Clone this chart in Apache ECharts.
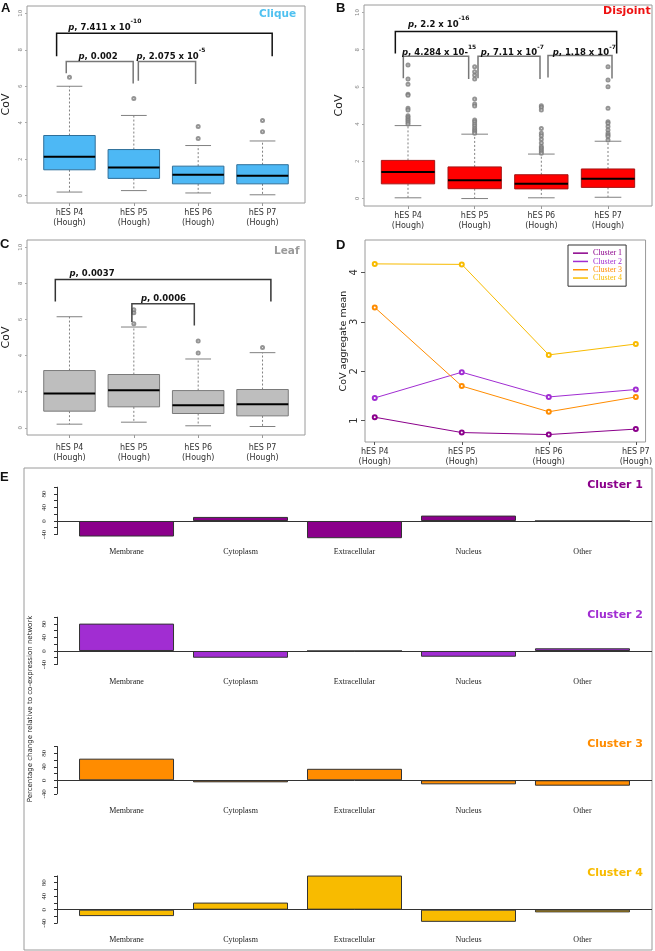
<!DOCTYPE html>
<html><head><meta charset="utf-8">
<script src="https://cdn.jsdelivr.net/npm/echarts@6/dist/echarts.min.js"></script>
<style>html,body{margin:0;padding:0;background:#fff}#c{width:655px;height:951px}</style>
</head><body><div id="c"></div>
<script>
// ---------- data ----------
const stages = ['hES P4\n(Hough)', 'hES P5\n(Hough)', 'hES P6\n(Hough)', 'hES P7\n(Hough)'];
// box stats per stage: [lower whisker, Q1, median, Q3, upper whisker]
const cliqueBoxes = [[0.2,1.42,2.14,3.3,6.0],[0.28,0.95,1.54,2.53,4.4],[0.15,0.65,1.15,1.62,2.75],[0.05,0.65,1.1,1.7,3.0]];
const cliqueOutliers = [[6.5],[5.33],[3.13,3.8],[3.5,4.12]];
const disjointBoxes = [[0.04,0.79,1.43,2.05,3.92],[0.0,0.53,0.98,1.7,3.46],[0.04,0.52,0.8,1.28,2.39],[0.07,0.6,1.07,1.59,3.08]];
const disjointOutliers = [
  [7.17,6.42,6.14,5.6,5.55,4.85,4.76,4.45,4.37,4.28,4.19,4.1,4.01],
  [7.08,6.81,6.63,6.42,5.35,5.08,4.97,4.22,4.13,4.0,3.9,3.78,3.69,3.6,3.51],
  [4.99,4.9,4.76,3.76,3.51,3.37,3.19,2.98,2.8,2.71,2.62,2.53,2.44],
  [7.08,6.37,6.01,4.85,4.13,4.04,3.87,3.69,3.51,3.42,3.33,3.15]
];
const leafBoxes = [[0.2,0.92,1.9,3.17,6.15],[0.31,1.16,2.08,2.95,5.58],[0.11,0.79,1.25,2.06,3.81],[0.07,0.66,1.31,2.12,4.16]];
const leafOutliers = [[],[5.76,6.37,6.54],[4.14,4.8],[4.44]];

// significance brackets: [x from, x to, top, left leg end, right leg end] (data units)
const cliqueBrackets = [[-0.2,3.15,8.9,7.64,7.64],[-0.05,0.99,7.36,6.72,6.15],[1.07,1.96,7.36,6.3,6.12]];
const disjointBrackets = [[-0.19,3.13,8.98,7.79,7.79],[-0.07,0.91,7.65,6.47,6.42],[1.05,1.98,7.65,6.47,6.42],[2.1,3.06,7.68,6.5,6.45]];
const leafBrackets = [[-0.22,3.13,8.21,7.0,7.0],[0.97,1.94,6.87,5.86,5.67]];
const cliquePLabels = [
  {x:-0.02, y:9.34, main:', 7.411 x 10', sup:'-10'},
  {x:0.14, y:7.75, main:', 0.002', sup:''},
  {x:1.04, y:7.75, main:', 2.075 x 10', sup:'-5'}
];
const disjointPLabels = [
  {x:0.0, y:9.47, main:', 2.2 x 10', sup:'-16'},
  {x:-0.09, y:7.92, main:', 4.284 x 10-', sup:'15'},
  {x:1.09, y:7.92, main:', 7.11 x 10', sup:'-7'},
  {x:2.17, y:7.92, main:', 1.18 x 10', sup:'-7'}
];
const leafPLabels = [
  {x:0.0, y:8.62, main:', 0.0037', sup:''},
  {x:1.11, y:7.24, main:', 0.0006', sup:''}
];

const clusterNames = ['Cluster 1','Cluster 2','Cluster 3','Cluster 4'];
const cluster1Mean = [1.07,0.76,0.72,0.83];
const cluster2Mean = [1.46,1.98,1.48,1.63];
const cluster3Mean = [3.29,1.70,1.18,1.48];
const cluster4Mean = [4.17,4.16,2.33,2.55];

const compartments = ['Membrane','Cytoplasm','Extracellular','Nucleus','Other'];
const cluster1Change = [-46,12,-51,16,0];
const cluster2Change = [81,-20,0,-17,8];
const cluster3Change = [64,-6,34,-12,-16];
const cluster4Change = [-19,21,101,-36,-8];

// ---------- styling / layout ----------
const clusterColors = ['#8B008B','#A12DD2','#FF8C00','#F8BB00'];
const SANS = 'DejaVu Sans';
const SERIF = 'Liberation Serif';
const compartmentPos = compartments.map((c,i)=>0.7+1.2*i);

const chart = echarts.init(document.getElementById('c'), null, {renderer:'canvas'});

function boxRender(fill, stroke){
  return function(params, api){
    const x = api.value(0);
    const lo = api.coord([x, api.value(1)]), q1 = api.coord([x, api.value(2)]),
          md = api.coord([x, api.value(3)]), q3 = api.coord([x, api.value(4)]),
          hi = api.coord([x, api.value(5)]);
    const half = api.size([0.8,0])[0]/2, sh = api.size([0.4,0])[0]/2, cx = lo[0];
    const dash = {stroke:'#808080', lineWidth:1, lineDash:[2,2]};
    const solid = {stroke:'#808080', lineWidth:1};
    return {type:'group', children:[
      {type:'line', shape:{x1:cx,y1:q3[1],x2:cx,y2:hi[1]}, style:dash},
      {type:'line', shape:{x1:cx,y1:q1[1],x2:cx,y2:lo[1]}, style:dash},
      {type:'line', shape:{x1:cx-sh,y1:hi[1],x2:cx+sh,y2:hi[1]}, style:solid},
      {type:'line', shape:{x1:cx-sh,y1:lo[1],x2:cx+sh,y2:lo[1]}, style:solid},
      {type:'rect', shape:{x:cx-half,y:q3[1],width:2*half,height:q1[1]-q3[1]}, style:{fill:fill, stroke:stroke, lineWidth:1}},
      {type:'line', shape:{x1:cx-half,y1:md[1],x2:cx+half,y2:md[1]}, style:{stroke:'#000', lineWidth:2}}
    ]};
  };
}
function bracketRender(firstColor, otherColor){
  return function(params, api){
    const a = api.coord([api.value(0), api.value(3)]);
    const b = api.coord([api.value(0), api.value(2)]);
    const c = api.coord([api.value(1), api.value(2)]);
    const d = api.coord([api.value(1), api.value(4)]);
    return {type:'polyline', shape:{points:[a,b,c,d]},
      style:{stroke: params.dataIndex===0?firstColor:otherColor, lineWidth:1.5, fill:null}};
  };
}
function labelRender(labels){
  return function(params, api){
    const L = labels[params.dataIndex];
    const pt = api.coord([api.value(0), api.value(1)]);
    return {type:'text', x:pt[0], y:pt[1], style:{
      text:'{i|p}{b|'+L.main+'}'+(L.sup?'{s|'+L.sup+'}':''),
      rich:{
        i:{fontFamily:SANS, fontWeight:'bold', fontStyle:'italic', fontSize:8.5, lineHeight:13, verticalAlign:'bottom', fill:'#111'},
        b:{fontFamily:SANS, fontWeight:'bold', fontSize:8.5, lineHeight:13, verticalAlign:'bottom', fill:'#111'},
        s:{fontFamily:SANS, fontWeight:'bold', fontSize:6, lineHeight:13, verticalAlign:'top', fill:'#111'}
      },
      align:'left', verticalAlign:'middle'
    }};
  };
}

const grids = [
  {left:25, top:6, width:280, height:197},
  {left:364, top:5, width:288, height:201},
  {left:26, top:240, width:279, height:195},
  {left:365, top:240, width:287, height:202},
  {left:24, top:468, width:628, height:482},
  {left:57, top:487.2, width:595, height:47.3},
  {left:57, top:617.2, width:595, height:47.3},
  {left:57, top:746.5, width:595, height:47.3},
  {left:57, top:875.9, width:595, height:47.3}
].map((g,i)=>Object.assign({show:i<5, borderColor:'#9a9a9a', borderWidth:1, backgroundColor:'transparent', containLabel:false}, g));

const xAxes = [], yAxes = [];
// box panels
[0,1,2].forEach(gi=>{
  xAxes.push({type:'value', gridIndex:gi, min:-0.66, max:3.66, position:'bottom',
    axisLine:{show:false, onZero:false}, splitLine:{show:false},
    axisTick:{show:true, customValues:[0,1,2,3], length:3, lineStyle:{color:'#999'}},
    axisLabel:{customValues:[0,1,2,3], formatter:v=>stages[Math.round(v)], fontFamily:SANS, fontSize:8, lineHeight:10, color:'#333', margin: gi===2?8:5}
  });
  yAxes.push({type:'value', gridIndex:gi, min:-0.4, max:10.4, position:'left',
    name:'CoV', nameLocation:'middle', nameGap: gi===1?19:15,
    nameTextStyle:{fontFamily:SANS, fontSize:11, color:'#222'},
    axisLine:{show:false, onZero:false}, splitLine:{show:false},
    axisTick:{show:true, customValues:[0,2,4,6,8,10], length:2, lineStyle:{color:'#aaa'}},
    axisLabel:{customValues:[0,2,4,6,8,10], rotate:90, fontSize:5.5, fontFamily:SANS, color:'#888', margin:3}
  });
});
// D
xAxes.push({type:'value', gridIndex:3, min:0.888, max:4.112, position:'bottom',
  axisLine:{show:false, onZero:false}, splitLine:{show:false},
  axisTick:{show:true, customValues:[1,2,3,4], length:3, lineStyle:{color:'#555'}},
  axisLabel:{customValues:[1,2,3,4], formatter:v=>stages[Math.round(v)-1], fontFamily:SANS, fontSize:8, lineHeight:10, color:'#333', margin:5}
});
yAxes.push({type:'value', gridIndex:3, min:0.569, max:4.653, position:'left',
  name:'CoV aggregate mean', nameLocation:'middle', nameGap:16,
  nameTextStyle:{fontFamily:SANS, fontSize:9.5, color:'#222'},
  axisLine:{show:false, onZero:false}, splitLine:{show:false},
  axisTick:{show:true, customValues:[1,2,3,4], length:4, lineStyle:{color:'#555'}},
  axisLabel:{customValues:[1,2,3,4], rotate:90, fontSize:10, fontFamily:SANS, color:'#333', margin:6}
});
// E frame
xAxes.push({type:'value', gridIndex:4, min:0, max:1, show:true, axisLine:{show:false, onZero:false}, axisTick:{show:false}, axisLabel:{show:false}, splitLine:{show:false}});
yAxes.push({type:'value', gridIndex:4, min:0, max:1, name:'Percentage change relative to co-expression network',
  nameLocation:'middle', nameGap:-10, nameTextStyle:{fontFamily:SANS, fontSize:7, color:'#222'},
  axisLine:{show:false, onZero:false}, axisTick:{show:false}, axisLabel:{show:false}, splitLine:{show:false}});
// E subplots
[5,6,7,8].forEach(gi=>{
  xAxes.push({type:'value', gridIndex:gi, min:-0.032, max:6.232, position:'bottom',
    axisLine:{show:false, onZero:false}, axisTick:{show:false}, splitLine:{show:false},
    axisLabel:{customValues:compartmentPos, formatter:v=>compartments[Math.round((v-0.7)/1.2)], fontFamily:SERIF, fontSize:8, color:'#222', margin:13}
  });
  yAxes.push({type:'value', gridIndex:gi, min:-40, max:100, interval:20, position:'left',
    axisLine:{show:true, onZero:false, lineStyle:{color:'#333', width:1}},
    axisTick:{show:true, length:3, lineStyle:{color:'#333'}},
    splitLine:{show:false},
    axisLabel:{formatter:v=>(v%40===0?String(v):''), rotate:90, fontFamily:SERIF, fontSize:7, color:'#222', margin:9}
  });
});

const series = [];
const boxPanels = [
  {boxes:cliqueBoxes, out:cliqueOutliers, br:cliqueBrackets, lab:cliquePLabels, fill:'#4DB8F5', stroke:'#2F6F99', c1:'#111', c2:'#777'},
  {boxes:disjointBoxes, out:disjointOutliers, br:disjointBrackets, lab:disjointPLabels, fill:'#FF0000', stroke:'#A51515', c1:'#111', c2:'#777'},
  {boxes:leafBoxes, out:leafOutliers, br:leafBrackets, lab:leafPLabels, fill:'#BEBEBE', stroke:'#7a7a7a', c1:'#333', c2:'#444'}
];
boxPanels.forEach((p,gi)=>{
  series.push({type:'custom', xAxisIndex:gi, yAxisIndex:gi, renderItem:boxRender(p.fill,p.stroke),
    encode:{x:0, y:[1,2,3,4,5]}, data:p.boxes.map((b,i)=>[i].concat(b)), z:2, silent:true});
  const pts = [];
  p.out.forEach((arr,i)=>arr.forEach(v=>pts.push([i,v])));
  series.push({type:'scatter', xAxisIndex:gi, yAxisIndex:gi, data:pts, symbol:'emptyCircle', symbolSize:3,
    itemStyle:{color:'#7a7a7a', borderColor:'#7a7a7a', borderWidth:0.6}, z:3, silent:true});
  series.push({type:'custom', xAxisIndex:gi, yAxisIndex:gi, renderItem:bracketRender(p.c1,p.c2),
    encode:{x:[0,1], y:[2,3,4]}, data:p.br, z:4, silent:true});
  series.push({type:'custom', xAxisIndex:gi, yAxisIndex:gi, renderItem:labelRender(p.lab),
    encode:{x:0, y:1}, data:p.lab.map(l=>[l.x,l.y]), z:5, silent:true});
});
[cluster1Mean, cluster2Mean, cluster3Mean, cluster4Mean].forEach((m,k)=>{
  series.push({type:'line', name:clusterNames[k], xAxisIndex:3, yAxisIndex:3,
    data:m.map((v,i)=>[i+1,v]), symbol:'emptyCircle', symbolSize:4, showSymbol:true,
    lineStyle:{color:clusterColors[k], width:1}, itemStyle:{color:clusterColors[k], borderWidth:1}, silent:true});
});
[cluster1Change, cluster2Change, cluster3Change, cluster4Change].forEach((vals,k)=>{
  series.push({type:'bar', name:'E '+clusterNames[k], xAxisIndex:5+k, yAxisIndex:5+k,
    data:vals.map((v,i)=>[compartmentPos[i], v]), barWidth:95, clip:false,
    itemStyle:{color:clusterColors[k], borderColor:'#333', borderWidth:1}, silent:true,
    markLine:{silent:true, symbol:'none', label:{show:false}, lineStyle:{color:'#333', width:1, type:'solid'},
      data:[{yAxis:0}]}
  });
});

const titles = [
  {text:'A', left:1, top:2}, {text:'B', left:336, top:2}, {text:'C', left:0, top:238},
  {text:'D', left:336, top:239}, {text:'E', left:0, top:471}
].map(t=>({text:t.text, left:t.left, top:t.top, padding:0, textStyle:{fontFamily:'Liberation Sans', fontWeight:'bold', fontSize:13, color:'#111'}}));
titles.push({text:'Clique', left:259, top:8.5, padding:0, textStyle:{fontFamily:SANS, fontWeight:'bold', fontSize:10.5, color:'#4FC1F0'}});
titles.push({text:'Disjoint', left:603, top:5.5, padding:0, textStyle:{fontFamily:SANS, fontWeight:'bold', fontSize:11, color:'#EE1111'}});
titles.push({text:'Leaf', left:274, top:245.5, padding:0, textStyle:{fontFamily:SANS, fontWeight:'bold', fontSize:10.5, color:'#9a9a9a'}});
[479.5, 609.5, 739, 868].forEach((t,k)=>{
  titles.push({text:clusterNames[k], right:12, top:t, padding:0, textStyle:{fontFamily:SANS, fontWeight:'bold', fontSize:11, color:clusterColors[k]}});
});

chart.setOption({
  animation:false,
  backgroundColor:'#fff',
  title:titles,
  legend:{show:true, left:568, top:245, orient:'vertical', icon:'rect', itemWidth:15, itemHeight:1.5, itemGap:0,
    padding:[4,4,4,5], borderColor:'#333', borderWidth:1, selectedMode:false,
    textStyle:{fontFamily:SERIF, fontSize:8, lineHeight:8.3},
    data:clusterNames.map((n,i)=>({name:n, textStyle:{color:clusterColors[i]}}))},
  grid:grids,
  xAxis:xAxes,
  yAxis:yAxes,
  series:series
});
</script></body></html>
